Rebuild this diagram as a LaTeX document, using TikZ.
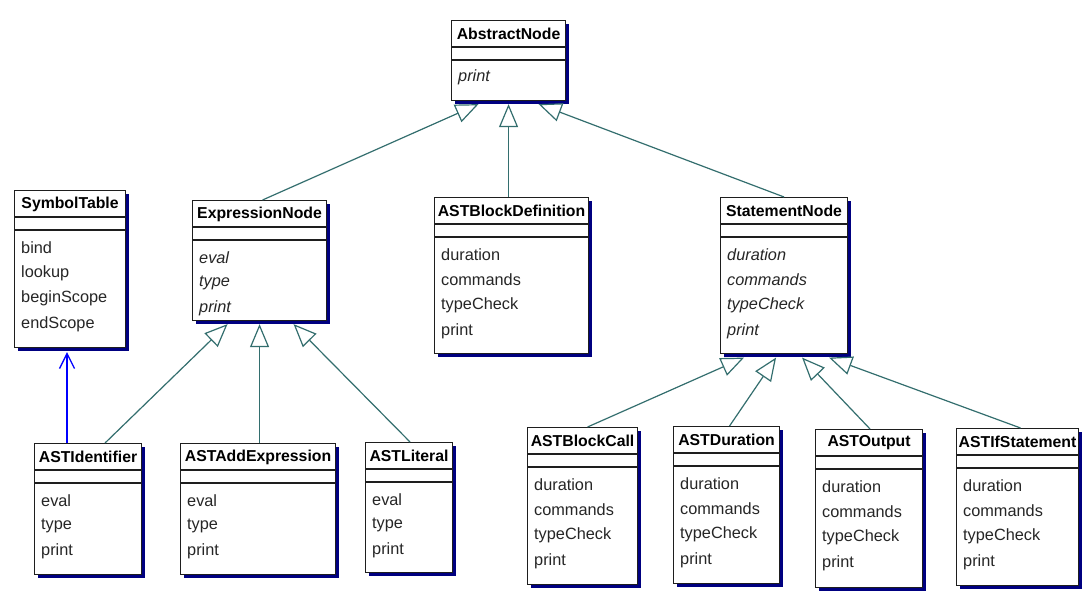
\documentclass[tikz,border=0pt]{standalone}
\usepackage{fontspec}
\setmainfont{Liberation Sans}
\usetikzlibrary{arrows.meta}

\definecolor{shadowblue}{RGB}{0,0,128}
\definecolor{genline}{RGB}{51,110,110}
\definecolor{assocblue}{RGB}{0,0,255}
\definecolor{boxline}{RGB}{30,30,30}

\tikzset{
  classbox/.style={draw=boxline, line width=1.1pt, fill=white, rectangle, inner sep=0pt},
  classshadow/.style={fill=shadowblue, draw=none},
  divider/.style={draw=boxline, line width=1.1pt},
  titletext/.style={font=\fontsize{15.8}{18}\selectfont\bfseries, inner sep=0pt, text=black},
  itemtext/.style={font=\fontsize{16.3}{19}\selectfont, anchor=west, inner sep=0pt, text=black!85},
  generalization/.style={draw=genline, line width=1.2pt,
    -{Triangle[open, length=23pt, width=19pt, fill=white, line width=1.2pt]}},
  association/.style={draw=assocblue, line width=1.3pt,
    -{Straight Barb[length=15pt, width=15pt, line width=1.3pt]}},
}

% UML class box: name, left, top, width, height, title, item font shape, items
\newcommand\umlclass[8]{%
  \fill[classshadow] (#2+4,#3+4) rectangle ++(#4,#5);
  \node[classbox, minimum width=#4pt, minimum height=#5pt, anchor=north west] (#1) at (#2,#3) {};
  \draw[divider] ([yshift=-27pt]#1.north west) -- ([yshift=-27pt]#1.north east);
  \draw[divider] ([yshift=-40pt]#1.north west) -- ([yshift=-40pt]#1.north east);
  \node[titletext] (#1-title) at ([yshift=-14pt]#1.north) {#6};
  \foreach \entry [count=\k] in {#8} {
    \node[itemtext] at ([xshift=7pt,yshift={-57.5pt-25.6pt*(\k-1)}]#1.north west) {#7\entry};
  }
}

\begin{document}
\begin{tikzpicture}[x=1pt, y=-1pt]
  \fill[white] (0,0) rectangle (1088,597);
  \useasboundingbox (0,0) rectangle (1088,597);

  % abstract bases
  \umlclass{abs}{451}{20}{114}{80}{AbstractNode}{\itshape}{print}
  \umlclass{expr}{192}{200}{134}{120}{ExpressionNode}{\itshape}{eval,type,print}
  \umlclass{stmt}{720}{197}{127}{156}{StatementNode}{\itshape}{duration,commands,typeCheck,print}

  % concrete classes
  \umlclass{symtab}{14}{190}{111}{157}{SymbolTable}{}{bind,lookup,beginScope,endScope}
  \umlclass{blockdef}{434}{197}{154}{156}{ASTBlockDefinition}{}{duration,commands,typeCheck,print}
  \umlclass{ident}{34}{443}{107}{131}{ASTIdentifier}{}{eval,type,print}
  \umlclass{addexpr}{180}{443}{155}{131}{ASTAddExpression}{}{eval,type,print}
  \umlclass{lit}{365}{442}{87}{130}{ASTLiteral}{}{eval,type,print}
  \umlclass{blockcall}{527}{427}{110}{157}{ASTBlockCall}{}{duration,commands,typeCheck,print}
  \umlclass{dur}{673}{426}{106}{157}{ASTDuration}{}{duration,commands,typeCheck,print}
  \umlclass{out}{815}{429}{107}{158}{ASTOutput}{}{duration,commands,typeCheck,print}
  \umlclass{ifst}{956}{428}{122}{157}{ASTIfStatement}{}{duration,commands,typeCheck,print}

  % generalizations to AbstractNode
  \draw[generalization] ([xshift=3pt]expr.north) -- ([xshift=-30pt,yshift=-3pt]abs.south);
  \draw[generalization] (blockdef.north -| abs.south) -- ([yshift=-3pt]abs.south);
  \draw[generalization] (stmt.north) -- ([xshift=30pt,yshift=-3pt]abs.south);

  % generalizations to ExpressionNode
  \draw[generalization] ([xshift=17pt]ident.north) -- ([xshift=-32pt,yshift=-3pt]expr.south);
  \draw[generalization] (addexpr.north -| expr.south) -- ([yshift=-3pt]expr.south);
  \draw[generalization] ([xshift=1pt]lit.north) -- ([xshift=34pt,yshift=-3pt]expr.south);

  % generalizations to StatementNode
  \draw[generalization] ([xshift=5pt]blockcall.north) -- ([xshift=-40pt,yshift=-3.5pt]stmt.south);
  \draw[generalization] ([xshift=3pt]dur.north) -- ([xshift=-8pt,yshift=-3.5pt]stmt.south);
  \draw[generalization] ([xshift=1pt]out.north) -- ([xshift=18pt,yshift=-3.5pt]stmt.south);
  \draw[generalization] ([xshift=3pt]ifst.north) -- ([xshift=45pt,yshift=-3.5pt]stmt.south);

  % navigable association ASTIdentifier -> SymbolTable
  \coordinate (symtab-in) at ([xshift=-3pt,yshift=-4pt]symtab.south);
  \draw[association] (ident.north -| symtab-in) -- (symtab-in);
\end{tikzpicture}
\end{document}
